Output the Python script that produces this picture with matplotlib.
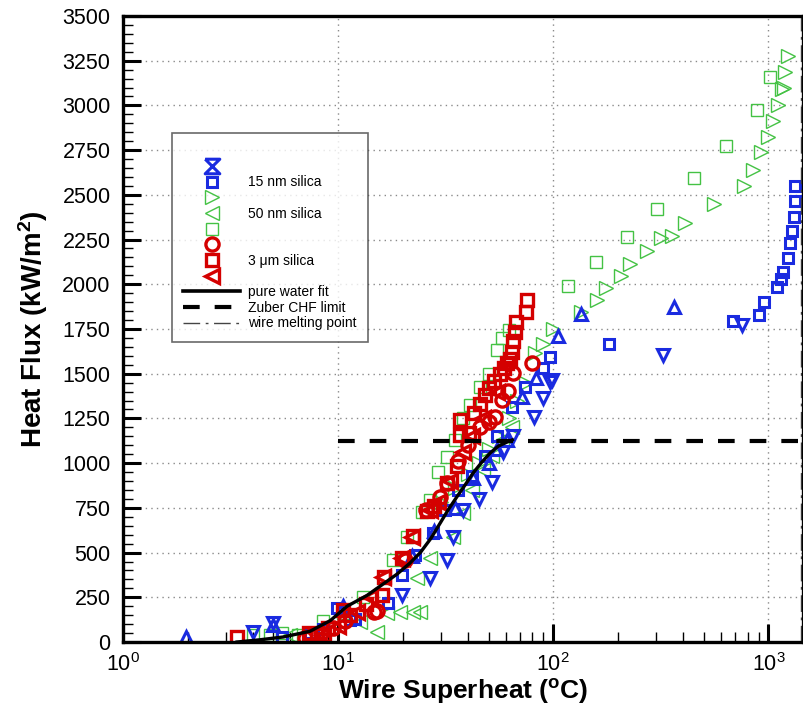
import numpy as np
import matplotlib.pyplot as plt
from matplotlib.lines import Line2D

plt.rcParams['font.family'] = ['Liberation Sans', 'DejaVu Sans']
plt.rcParams['mathtext.fontset'] = 'custom'
plt.rcParams['mathtext.rm'] = 'Liberation Sans'
plt.rcParams['mathtext.bf'] = 'Liberation Sans:bold'
plt.rcParams['mathtext.it'] = 'Liberation Sans:italic'

# ---- data ----
# 15 nm silica (blue)
b_dn_x = [4.0, 4.97, 19.9, 26.8, 32.2, 34.3, 38.1, 45, 52, 58.5, 65, 81, 89.6, 97, 98.6, 324, 754]
b_dn_y = [56, 106, 263, 358, 459, 587, 738, 800, 895, 1062, 1150, 1260, 1363, 1456, 1465, 1605, 1773]
b_up_x = [1.96, 5.0, 10.5, 22, 28, 34.9, 42.4, 50, 55, 61, 71.8, 83.5, 105, 134, 365]
b_up_y = [28, 95, 200, 480, 620, 749, 917, 1000, 1080, 1130, 1372, 1475, 1711, 1834, 1875]
b_sq_x = [5.5, 7.4, 8.5, 9.9, 11.4, 12.0, 17.1, 19.9, 22.8, 27.6, 31.4, 36, 42, 48, 55, 64.3, 74,
          89.6, 97, 181, 685, 901, 951, 1097, 1149, 1170, 1230, 1256, 1280, 1311, 1325, 1335]
b_sq_y = [30, 50, 70, 190, 123, 130, 218, 375, 486, 609, 738, 850, 930, 1040, 1150, 1316, 1428,
          1531, 1595, 1665, 1795, 1829, 1900, 1983, 2028, 2067, 2146, 2229, 2300, 2378, 2466, 2552]

# 50 nm silica (green)
g_rt_x = [30, 35, 40, 45, 50, 56, 62, 68, 75, 82, 90, 100, 134, 160, 176, 206, 228, 273, 315, 357,
          411, 557, 767, 849, 927, 997, 1052, 1109, 1158, 1175, 1199, 1230]
g_rt_y = [780, 860, 940, 1000, 1080, 1150, 1250, 1350, 1450, 1614, 1666, 1750, 1847, 1912, 1978,
          2047, 2114, 2188, 2261, 2270, 2345, 2449, 2552, 2636, 2738, 2822, 2910, 3003, 3091, 3098,
          3189, 3277]
g_lt_x = [6.0, 12.6, 15.2, 16.9, 19.4, 22.3, 24.1, 23.3, 26.8, 34.0, 38.0, 42.0, 47.0, 52.0, 58.0, 64.0]
g_lt_y = [40, 112, 56, 162, 170, 168, 168, 358, 470, 587, 720, 850, 960, 1040, 1130, 1200]
g_sq_x = [4.0, 4.8, 5.5, 6.5, 8.5, 10.5, 13.1, 18.0, 21.0, 24.6, 26.8, 29.1, 31.9, 35.0, 38.0, 41.1,
          45.7, 50.0, 54.5, 58.0, 62.3, 117, 158, 219, 304, 453, 638, 880, 1014]
g_sq_y = [39, 39, 50, 40, 120, 160, 252, 459, 587, 727, 794, 951, 1036, 1130, 1250, 1325, 1428,
          1500, 1633, 1700, 1745, 1992, 2127, 2266, 2420, 2593, 2774, 2975, 3161]

# 3 um silica (red)
r_ci_x = [7.0, 7.5, 8.3, 9.5, 10.8, 14.6, 15.2, 20.5, 25.5, 29.8, 32.0, 36.0, 40.0, 45.7, 50.0,
          53.8, 57.8, 61.5, 65.0, 79.6]
r_ci_y = [20, 35, 50, 80, 120, 168, 175, 460, 740, 811, 890, 1010, 1100, 1204, 1230, 1260, 1353,
          1404, 1503, 1558]
r_sq_x = [3.4, 7.3, 8.0, 9.0, 10.5, 11.4, 13.5, 16.0, 16.3, 19.9, 22.3, 26.0, 28.0, 32.0, 35.5,
          37.0, 37.0, 40.5, 43.0, 45.5, 48.0, 50.5, 53.0, 56.5, 59.0, 61.0, 63.0, 64.3, 65.3, 66.6,
          67.3, 74.6, 75.5]
r_sq_y = [30, 50, 40, 80, 180, 150, 210, 265, 365, 470, 590, 730, 760, 890, 985, 1160, 1240, 1170,
          1280, 1330, 1380, 1420, 1460, 1500, 1530, 1560, 1580, 1620, 1680, 1735, 1790, 1847, 1912]
r_lt_x = [8.5, 10.0, 12.2, 14.0, 16.2, 19.8, 22.0, 26.8, 29.0, 33.0, 38.0, 42.0, 47.0, 55.0]
r_lt_y = [40, 90, 170, 250, 363, 470, 587, 738, 780, 900, 1060, 1150, 1250, 1400]

# pure water fit
fit_x = [3.39, 4.3, 5.55, 7.4, 9.2, 11.0, 13.6, 16.0, 18.8, 21.5, 24.1, 27.0, 29.8, 32.5, 35.6,
         39.0, 42.4, 46.5, 50.9, 55.5, 61.0, 64.5]
fit_y = [0, 12, 28, 60, 120, 200, 260, 320, 380, 440, 500, 580, 665, 740, 811, 880, 945, 1005,
         1057, 1095, 1118, 1130]

zuber_chf = 1124
melt_T = 1410

blue = '#1a2be0'
green = '#44c244'
red = '#d40000'

fig = plt.figure(figsize=(8.04, 7.09), dpi=100)
ax = fig.add_axes([0.153, 0.0945, 0.846, 0.883])

gk = dict(ls='none', mfc='none', mec=green, mew=1.0)
ax.plot(g_sq_x, g_sq_y, marker='s', ms=8.5, **gk)
ax.plot(g_lt_x, g_lt_y, marker='<', ms=10, **gk)
ax.plot(g_rt_x, g_rt_y, marker='>', ms=10, **gk)

bk = dict(ls='none', mfc='none', mec=blue, mew=2.2)
ax.plot(b_sq_x, b_sq_y, marker='s', ms=7.5, **bk)
ax.plot(b_dn_x, b_dn_y, marker='v', ms=9, **bk)
ax.plot(b_up_x, b_up_y, marker='^', ms=9, **bk)

rk = dict(ls='none', mfc='none', mec=red, mew=2.4)
ax.plot(r_sq_x, r_sq_y, marker='s', ms=8, **rk)
ax.plot(r_lt_x, r_lt_y, marker='<', ms=9.5, **rk)
ax.plot(r_ci_x, r_ci_y, marker='o', ms=9.5, **rk)

ax.plot(fit_x, fit_y, color='black', lw=2.4)
ax.plot([10, 1500], [zuber_chf, zuber_chf], color='black', lw=3, ls=(0, (4, 3.6)))
ax.axvline(melt_T, color='#444444', lw=1, ls=(0, (12, 4, 2, 4)))

ax.set_xscale('log')
ax.set_xlim(1, 1450)
ax.set_ylim(0, 3500)
ax.set_yticks(np.arange(0, 3501, 250))
ax.set_yticks(np.arange(0, 3501, 50), minor=True)
ax.grid(True, which='major', color='#8a8a8a', lw=1, ls=(0, (1, 3)))

ax.tick_params(which='major', direction='in', length=13, width=2.2, top=False, right=False)
ax.tick_params(which='minor', direction='in', length=7, width=1, top=False, right=False)
ax.tick_params(axis='y', which='major', labelsize=15.5, pad=9)
ax.tick_params(axis='x', which='major', labelsize=15.5, pad=8)
for s in ax.spines.values():
    s.set_linewidth(2.4)

ax.set_xlabel('Wire Superheat ($^\\mathbf{o}$C)', fontsize=19, fontweight='bold', labelpad=1)
ax.set_ylabel('Heat Flux (kW/m$^\\mathbf{2}$)', fontsize=20, fontweight='bold', labelpad=9)

hourglass = [(-1, 1), (1, 1), (-1, -1), (1, -1), (-1, 1)]
handles = [
    Line2D([], [], ls='none'),
    Line2D([], [], ls='none', marker=hourglass, ms=10.5, mfc='none', mec=blue, mew=2.2),
    Line2D([], [], ls='none', marker='s', ms=7.5, mfc='none', mec=blue, mew=2.2),
    Line2D([], [], ls='none', marker='>', ms=10, mfc='none', mec=green, mew=1.0),
    Line2D([], [], ls='none', marker='<', ms=10, mfc='none', mec=green, mew=1.0),
    Line2D([], [], ls='none', marker='s', ms=8.5, mfc='none', mec=green, mew=1.0),
    Line2D([], [], ls='none', marker='o', ms=9.5, mfc='none', mec=red, mew=2.4),
    Line2D([], [], ls='none', marker='s', ms=8, mfc='none', mec=red, mew=2.4),
    Line2D([], [], ls='none', marker='<', ms=9.5, mfc='none', mec=red, mew=2.4),
    Line2D([], [], color='black', lw=2.6),
    Line2D([], [], color='black', lw=3, ls=(0, (4, 3.6))),
    Line2D([], [], color='#444444', lw=1, ls=(0, (12, 4, 2, 4))),
]
labels = [' ', ' ', '15 nm silica', ' ', '50 nm silica', ' ', ' ', '3 \u03bcm silica', ' ',
          'pure water fit', 'Zuber CHF limit', 'wire melting point']
leg = ax.legend(handles, labels, loc='upper left', bbox_to_anchor=(0.072, 0.813),
                fontsize=10, frameon=True, fancybox=False, edgecolor='#444444',
                handlelength=4.1, labelspacing=0.12, borderpad=0.8, handletextpad=0.6,
                borderaxespad=0)
leg.get_frame().set_linewidth(1.2)

fig.savefig('out.png', dpi=100)
